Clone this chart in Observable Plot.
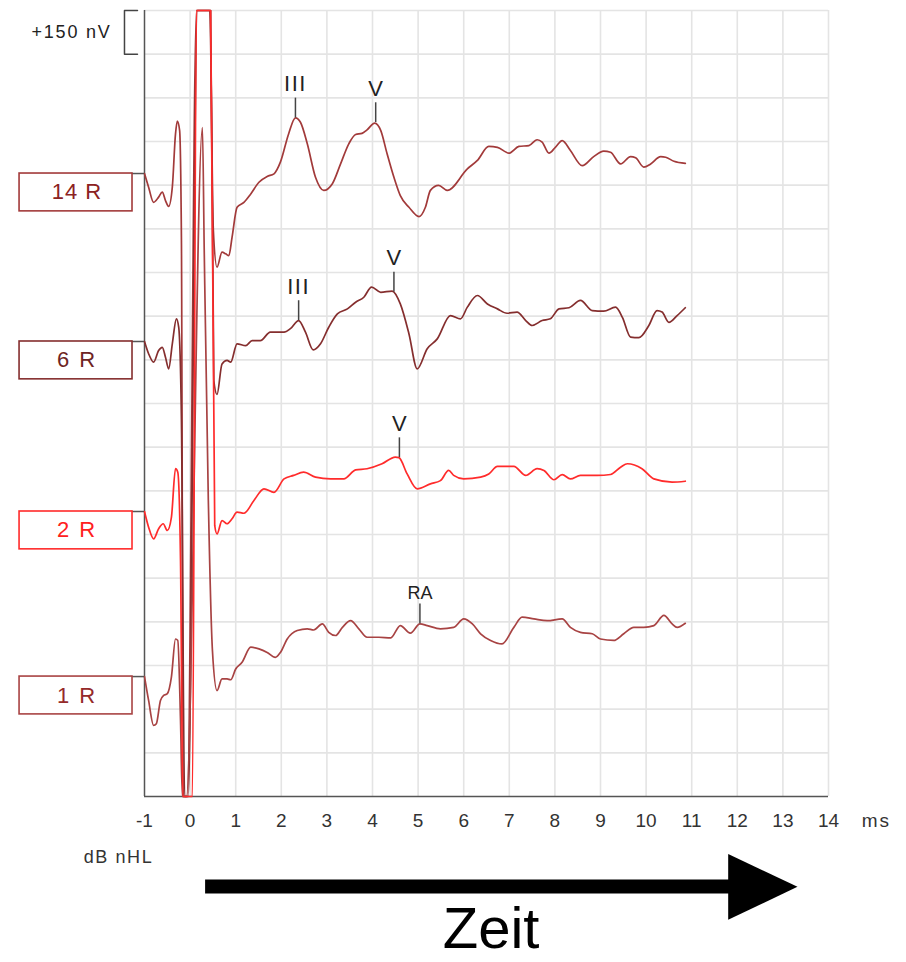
<!DOCTYPE html>
<html>
<head>
<meta charset="utf-8">
<script src="https://cdn.jsdelivr.net/npm/d3@7"></script>
<script src="https://cdn.jsdelivr.net/npm/@observablehq/plot@0.6"></script>
<style>
  html, body { margin: 0; padding: 0; background: #fff; }
  #chart { width: 906px; height: 962px; overflow: hidden; }
</style>
</head>
<body>
<div id="chart"></div>
<script>
// ---- data: stimulus levels and their display baselines (nV) ----
const traceNames = ["14 R", "6 R", "2 R", "1 R"];
const traceOffsets = [2140, 1563, 979, 412];

// ---- waveforms: latency (ms) and amplitude (nV relative to baseline) ----
const t14 = [-1.00,-0.91,-0.80,-0.69,-0.61,-0.54,-0.47,-0.39,-0.32,-0.28,-0.23,-0.19,-0.15,-0.06,0.14,0.43,0.51,0.59,0.70,0.78,0.85,0.92,1.03,1.18,1.33,1.51,1.69,1.84,1.98,2.16,2.31,2.42,2.57,2.75,2.93,3.12,3.30,3.48,3.63,3.77,3.88,4.05,4.18,4.32,4.47,4.61,4.80,5.02,5.16,5.27,5.45,5.64,6.08,6.30,6.55,6.74,6.99,7.21,7.43,7.61,7.72,7.87,8.01,8.16,8.34,8.60,8.85,9.07,9.22,9.44,9.66,9.77,9.95,10.10,10.32,10.43,10.61,10.86];
const v14 = [0,-47,-99,-81,-64,-93,-113,-47,136,180,148,-230,-3000,-3000,3000,3000,-196,-322,-270,-276,-282,-219,-116,-99,-70,-30,-10,-1,39,136,191,176,102,-13,-58,-35,33,102,134,138,150,173,148,68,-13,-76,-116,-148,-116,-58,-41,-58,16,45,93,90,70,93,96,116,108,70,90,113,79,27,58,77,73,33,58,54,22,33,58,56,42,35];

const t6 = [-1.00,-0.91,-0.80,-0.69,-0.61,-0.54,-0.47,-0.39,-0.30,-0.25,-0.19,-0.12,-0.04,0.16,0.45,0.52,0.59,0.70,0.81,0.89,1.03,1.22,1.36,1.54,1.76,2.06,2.20,2.38,2.53,2.70,2.86,3.04,3.23,3.45,3.63,3.81,3.98,4.18,4.43,4.61,4.80,4.98,5.20,5.42,5.71,5.93,6.08,6.30,6.52,6.74,6.95,7.17,7.36,7.50,7.72,7.90,8.09,8.31,8.56,8.82,9.07,9.33,9.48,9.66,9.84,10.06,10.24,10.35,10.50,10.68,10.86];
const v6 = [0,-42,-71,-31,-20,-54,-94,-8,78,49,-271,-3000,-3000,3000,3000,-134,-182,-77,-65,-71,-8,-14,3,3,32,32,44,72,32,-29,-8,49,95,112,135,152,187,169,173,129,26,-94,-25,9,89,78,118,158,129,112,97,101,72,55,72,78,112,116,141,106,104,118,83,15,13,55,106,101,66,89,116];

const t2 = [-1.00,-0.91,-0.80,-0.69,-0.59,-0.50,-0.41,-0.32,-0.27,-0.21,-0.16,0.05,0.14,0.45,0.54,0.59,0.70,0.81,0.92,1.03,1.18,1.40,1.62,1.84,2.06,2.27,2.49,2.75,3.08,3.37,3.63,3.88,4.21,4.50,4.58,4.76,4.98,5.27,5.49,5.67,5.78,6.00,6.37,6.55,6.74,7.10,7.36,7.61,7.76,7.98,8.16,8.34,8.56,8.93,9.22,9.44,9.59,9.91,10.17,10.57,10.86];
const v2 = [0,-54,-94,-59,-42,-65,-20,147,135,-168,-3000,-3000,3000,3000,-48,-77,-31,-42,-25,-2,-6,38,78,66,112,124,135,118,112,112,143,147,164,187,185,129,78,95,106,141,124,112,118,129,155,155,124,147,141,109,127,112,124,124,127,152,164,147,112,101,104];

const t1 = [-1.00,-0.91,-0.80,-0.74,-0.65,-0.58,-0.50,-0.41,-0.32,-0.27,-0.21,-0.17,-0.08,0.27,0.31,0.40,0.49,0.59,0.70,0.81,0.89,1.00,1.14,1.33,1.51,1.69,1.87,1.98,2.13,2.35,2.57,2.71,2.90,3.04,3.19,3.34,3.52,3.70,3.88,4.14,4.40,4.61,4.83,5.04,5.20,5.49,5.78,6.00,6.19,6.37,6.59,6.84,7.10,7.28,7.54,7.83,8.16,8.34,8.56,8.82,9.00,9.29,9.51,9.73,9.95,10.17,10.39,10.57,10.68,10.86];
const v1 = [0,-82,-168,-162,-82,-65,-59,-2,129,124,-151,-3000,-3000,1886,1463,605,89,-48,-8,-8,-11,26,49,101,95,83,66,83,129,158,164,160,181,152,141,169,192,164,135,135,133,175,149,181,175,164,169,198,181,147,124,112,169,204,198,192,198,169,152,147,129,124,147,169,169,175,210,181,169,183];

// ---- wave markers ----
const markerTrace = ["14 R", "14 R", "6 R", "6 R", "2 R", "1 R"];
const markerLabel = ["III", "V", "III", "V", "V", "RA"];
const markerMs    = [2.31, 4.07, 2.38, 4.47, 4.59, 5.04];
const markerNv    = [191, 175, 72, 170, 185, 181];

// ---- axis ----
const xTicks = d3.range(-1, 15);
const scaleBarNv = 150;

// ---- styles ----
const traceColors = {"14 R": "#a23a3a", "6 R": "#852e2e", "2 R": "#ff2b2b", "1 R": "#a84343"};
const boxTextColors = {"14 R": "#8c2222", "6 R": "#6e2424", "2 R": "#ff2020", "1 R": "#952a2a"};
const letterSpacing = {"+150 nV": "1.8px", "ms": "2px", "dB nHL": "1.6px", "14 R": "1px", "6 R": "2px", "2 R": "2px", "1 R": "2px", "III": "1.5px"};

// ---- build tables ----
const series = {"14 R": [t14, v14], "6 R": [t6, v6], "2 R": [t2, v2], "1 R": [t1, v1]};
const offsetOf = Object.fromEntries(traceNames.map((n, i) => [n, traceOffsets[i]]));
const drawOrder = ["14 R", "6 R", "1 R", "2 R"];
const lineMarks = drawOrder.map(name => {
  const [t, v] = series[name];
  const n = Math.min(t.length, v.length);
  const rows = d3.range(n).map(j => ({t: t[j], y: offsetOf[name] + v[j]}));
  return Plot.line(rows, {x: "t", y: "y", stroke: traceColors[name], strokeWidth: 1.7, curve: "monotone-x"});
});

const markers = markerLabel.map((label, i) => ({
  label, t: markerMs[i], y: offsetOf[markerTrace[i]] + markerNv[i]
}));
const boxes = traceNames.map((name, i) => ({name, off: traceOffsets[i]}));

const yTop = 2700;
const bracket = [
  {x: -1.154, y: yTop}, {x: -1.439, y: yTop},
  {x: -1.439, y: yTop - scaleBarNv}, {x: -1.154, y: yTop - scaleBarNv}
];
const arrowHead = [{x: 11.8, y: 263}, {x: 13.32, y: 150}, {x: 11.8, y: 37}];

const chart = Plot.plot({
  width: 906,
  height: 962,
  marginLeft: 144,
  marginRight: 78,
  marginTop: 10,
  marginBottom: 166,
  style: {fontFamily: "'Liberation Sans', Arial, sans-serif", fontSize: "19px", color: "#333", background: "#fff"},
  x: {domain: [-1, 14], ticks: xTicks, tickSize: 0, tickPadding: 17, tickFormat: d => String(d), label: null},
  y: {domain: [0, yTop], clamp: true, axis: null},
  marks: [
    // grid
    Plot.ruleX(xTicks.filter(d => d > -1), {stroke: "#e4e4e4", strokeWidth: 1.6}),
    Plot.ruleY(d3.range(scaleBarNv, yTop + 1, scaleBarNv), {stroke: "#e4e4e4", strokeWidth: 1.6}),
    // frame axes
    Plot.ruleX([-1], {stroke: "#555", strokeWidth: 1.5}),
    Plot.ruleY([0], {stroke: "#555", strokeWidth: 1.5}),
    // traces
    ...lineMarks,
    // wave markers
    Plot.ruleX(markers, {x: "t", y1: "y", y2: d => d.y + 68, stroke: "#444", strokeWidth: 1.5}),
    Plot.text(markers.filter(d => d.label !== "RA"), {x: "t", y: d => d.y + 68, dy: -14, text: "label", fontSize: 22, fill: "#222", lineAnchor: "middle"}),
    Plot.text(markers.filter(d => d.label === "RA"), {x: "t", y: d => d.y + 68, dy: -11, text: "label", fontSize: 18, fill: "#222", lineAnchor: "middle"}),
    // level label boxes
    Plot.ruleY(boxes, {y: "off", x1: () => -1.3, x2: () => -1, stroke: "#555", strokeWidth: 1.5}),
    Plot.rect(boxes, {x1: () => -3.74, x2: () => -1.263, y1: d => d.off - 130, y2: "off", fill: "#fff", stroke: d => traceColors[d.name], strokeWidth: 1.6}),
    Plot.text(boxes, {x: () => -2.48, y: d => d.off - 65, text: "name", fontSize: 22, fill: d => boxTextColors[d.name], lineAnchor: "middle"}),
    // +150 nV scale bar
    Plot.line(bracket, {x: "x", y: "y", stroke: "#444", strokeWidth: 1.5}),
    Plot.text(["+150 nV"], {x: () => -1.72, y: () => yTop - scaleBarNv / 2, text: d => d, textAnchor: "end", fontSize: 18, fill: "#222", lineAnchor: "middle"}),
    // unit labels
    Plot.text(["ms"], {x: () => 15.05, y: () => 0, dy: 24, text: d => d, fontSize: 19, fill: "#333", lineAnchor: "middle"}),
    Plot.text(["dB nHL"], {x: () => -1.57, y: () => 0, dy: 61, text: d => d, fontSize: 18, fill: "#333", lineAnchor: "middle"}),
    // time arrow
    Plot.ruleY([0], {x1: () => 0.34, x2: () => 11.9, dy: 90, stroke: "#000", strokeWidth: 14}),
    Plot.line(arrowHead, {x: "x", y: "y", dy: 134, fill: "#000", stroke: "none"}),
    Plot.text(["Zeit"], {x: () => 6.6, y: () => 0, dy: 133, text: d => d, fontSize: 58, fill: "#000", lineAnchor: "middle"})
  ]
});
d3.select(chart).selectAll("text").each(function() {
  const s = letterSpacing[this.textContent];
  if (s) this.style.letterSpacing = s;
});
document.getElementById("chart").appendChild(chart);
</script>
</body>
</html>
